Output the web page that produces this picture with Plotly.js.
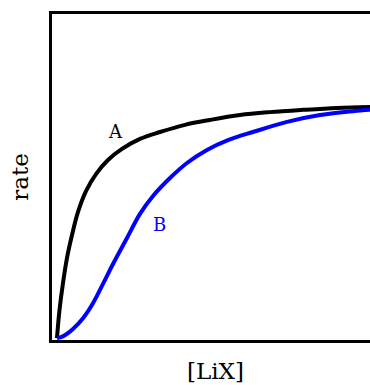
<!DOCTYPE html>
<html>
<head>
<meta charset="utf-8">
<script src="https://cdn.plot.ly/plotly-3.0.1.min.js"></script>
<style>html,body{margin:0;padding:0;background:#fff;}#chart{width:370px;height:385px;}</style>
</head>
<body>
<div id="chart"></div>
<script>
// Curve A (hyperbolic, black)
const xA = [0.157, 0.236, 0.346, 0.472, 0.629, 0.818, 1.069, 1.384, 1.761, 2.201, 2.767, 3.396, 4.182, 4.969, 5.912, 6.855, 7.893, 8.962, 10.0];
const yA = [0.006, 0.092, 0.175, 0.252, 0.322, 0.393, 0.457, 0.509, 0.552, 0.586, 0.617, 0.638, 0.660, 0.675, 0.690, 0.699, 0.706, 0.712, 0.715];
// Curve B (sigmoidal, blue)
const xB = [0.157, 0.283, 0.440, 0.660, 0.975, 1.289, 1.604, 1.918, 2.358, 2.767, 3.176, 3.711, 4.245, 4.874, 5.535, 6.321, 7.390, 8.428, 9.465, 10.0];
const yB = [0.006, 0.009, 0.017, 0.034, 0.067, 0.113, 0.172, 0.233, 0.313, 0.387, 0.442, 0.497, 0.543, 0.583, 0.613, 0.638, 0.669, 0.690, 0.702, 0.706];
const labels = ["A", "B"];
const labelX = [2.01, 3.365];
const labelY = [0.641, 0.353];
const labelColors = ["#000000", "#0000ff"];
const xTitle = "[LiX]";
const yTitle = "rate";

const serif = "DejaVu Serif, serif";
const traces = [
  {x: xA, y: yA, mode: "lines", line: {color: "#000000", width: 4, shape: "spline", smoothing: 1}, hoverinfo: "skip"},
  {x: xB, y: yB, mode: "lines", line: {color: "#0000ff", width: 4, shape: "spline", smoothing: 1}, hoverinfo: "skip"}
];
const annotations = labels.map((t, i) => ({x: labelX[i], y: labelY[i], text: t, showarrow: false,
  font: {family: serif, size: 18, color: labelColors[i]}}));
annotations.push({xref: "paper", yref: "paper", x: 0.5126, y: 0, yshift: -31, xanchor: "center", yanchor: "middle",
  text: xTitle, showarrow: false, font: {family: serif, size: 23, color: "#000"}});
const layout = {
  width: 370, height: 385,
  margin: {l: 52, r: 0, t: 14, b: 45},
  showlegend: false,
  paper_bgcolor: "#ffffff", plot_bgcolor: "#ffffff",
  xaxis: {range: [0, 10], showgrid: false, zeroline: false, showticklabels: false, ticks: "",
    showline: true, mirror: true, linecolor: "#000000", linewidth: 3},
  yaxis: {range: [0, 1], showgrid: false, zeroline: false, showticklabels: false, ticks: "",
    showline: true, linecolor: "#000000", linewidth: 3,
    title: {text: yTitle, font: {family: serif, size: 23, color: "#000"}, standoff: 14}},
  annotations: annotations
};
Plotly.newPlot("chart", traces, layout, {displayModeBar: false, staticPlot: true});
</script>
</body>
</html>
